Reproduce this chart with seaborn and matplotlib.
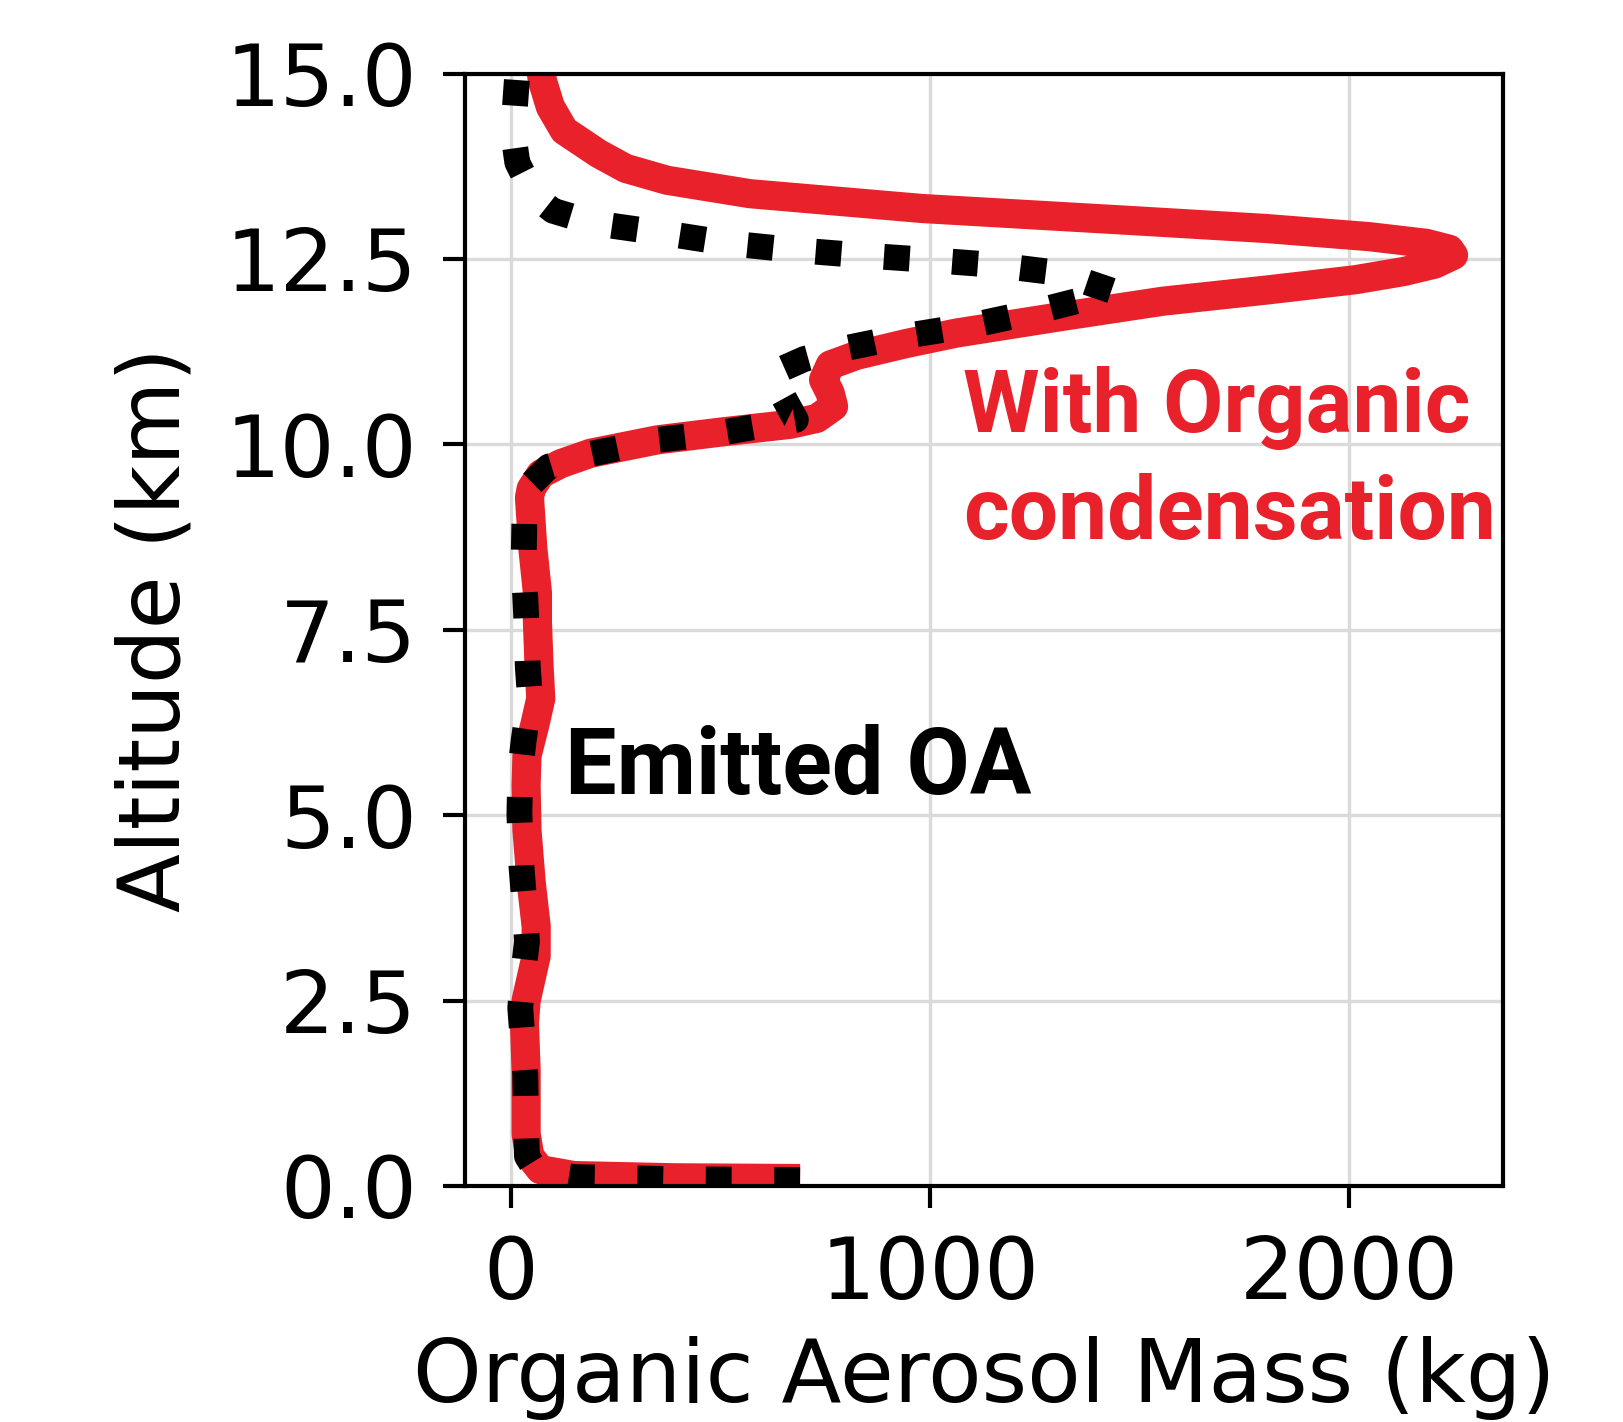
import matplotlib
matplotlib.use("Agg")
import matplotlib.pyplot as plt
import seaborn as sns
import pandas as pd

# Vertical profile of organic aerosol mass (kg) vs altitude (km)
cond_mass = [690, 390, 150, 70, 45, 36, 36, 32, 36, 60, 60, 48, 38, 36, 38, 56, 71, 67,
             63, 63, 52, 44, 48, 71, 119, 190, 349, 508, 667, 730, 770, 762, 746, 762,
             825, 944, 1063, 1310, 1556, 1803, 2016, 2131, 2205, 2250, 2240, 2185, 2049,
             1803, 1474, 981, 570, 373, 274, 209, 127, 94, 75, 70]
cond_alt = [0.10, 0.11, 0.14, 0.22, 0.40, 0.70, 1.55, 2.20, 2.50, 3.10, 3.50, 4.10, 4.80,
            5.40, 5.80, 6.20, 6.57, 7.00, 7.60, 8.00, 8.60, 9.28, 9.40, 9.60, 9.74, 9.88,
            10.06, 10.17, 10.27, 10.35, 10.51, 10.69, 10.87, 11.07, 11.20, 11.36, 11.50,
            11.72, 11.93, 12.08, 12.22, 12.33, 12.43, 12.55, 12.63, 12.71, 12.80, 12.91,
            13.02, 13.18, 13.38, 13.56, 13.72, 13.92, 14.23, 14.55, 14.90, 15.10]

emit_mass = [690, 400, 150, 60, 38, 36, 34, 22, 30, 38, 32, 25, 20, 22, 30, 45, 40, 36,
             30, 32, 45, 90, 190, 350, 505, 680, 620, 700, 784, 940, 1104, 1252, 1440,
             1310, 1153, 989, 833, 677, 521, 362, 200, 100, 55, 15, 5, 10, 15]
emit_alt = [0.08, 0.09, 0.12, 0.20, 0.40, 0.80, 1.50, 2.40, 2.90, 3.30, 3.80, 4.30, 5.00,
            5.60, 6.00, 6.60, 7.00, 7.70, 8.40, 9.00, 9.45, 9.70, 9.87, 10.06, 10.16,
            10.33, 10.95, 11.15, 11.28, 11.46, 11.61, 11.79, 12.06, 12.31, 12.42, 12.49,
            12.55, 12.62, 12.71, 12.85, 12.98, 13.15, 13.35, 13.80, 14.20, 14.60, 15.00]

x_ticks = [0, 1000, 2000]
y_ticks = [0.0, 2.5, 5.0, 7.5, 10.0, 12.5, 15.0]

RED = "#e8212a"

sns.set_style("whitegrid", {"axes.edgecolor": "black", "grid.color": "#dadada",
                            "axes.linewidth": 1.5, "axes.labelcolor": "black",
                            "text.color": "black"})
plt.rcParams["font.family"] = ["DejaVu Sans"]

fig = plt.figure(figsize=(8.12, 7.11), dpi=200)
ax = fig.add_axes([0.2863, 0.166, 0.6392, 0.7823])

cond_df = pd.DataFrame({"mass": cond_mass, "alt": cond_alt})
emit_df = pd.DataFrame({"mass": emit_mass, "alt": emit_alt})

sns.lineplot(data=cond_df, x="mass", y="alt", sort=False, estimator=None, ax=ax,
             color=RED, linewidth=10.5, solid_joinstyle="round", solid_capstyle="butt")
sns.lineplot(data=emit_df, x="mass", y="alt", sort=False, estimator=None, ax=ax,
             color="black", linewidth=9.3, linestyle=":", dash_capstyle="butt")

ax.set_xlim(-110, 2368)
ax.set_ylim(0, 15)
ax.set_xticks(x_ticks)
ax.set_yticks(y_ticks)
ax.set_xticklabels([f"{v:d}" for v in x_ticks])
ax.set_yticklabels([f"{v:.1f}" for v in y_ticks])
ax.grid(True, linewidth=1.2)
ax.tick_params(axis="both", which="major", direction="out", length=7.8, width=1.5,
               labelsize=31, colors="black", pad=9.5, left=True, bottom=True)
ax.set_xlabel("Organic Aerosol Mass (kg)", fontsize=31.5, labelpad=7, color="black")
ax.set_ylabel("Altitude (km)", fontsize=31, labelpad=10, color="black")
for s in ax.spines.values():
    s.set_color("black")
    s.set_linewidth(1.5)

ax.text(1078, 10.17, "With Organic", color=RED, fontsize=31.5, fontweight="bold",
        family=["Roboto", "DejaVu Sans"], ha="left", va="baseline")
ax.text(1080, 8.73, "condensation", color=RED, fontsize=31.5, fontweight="bold",
        family=["Roboto", "DejaVu Sans"], ha="left", va="baseline")
ax.text(130, 5.28, "Emitted OA", color="black", fontsize=33, fontweight="bold",
        family=["Roboto", "DejaVu Sans"], ha="left", va="baseline")

fig.savefig("out.png", dpi=200)
